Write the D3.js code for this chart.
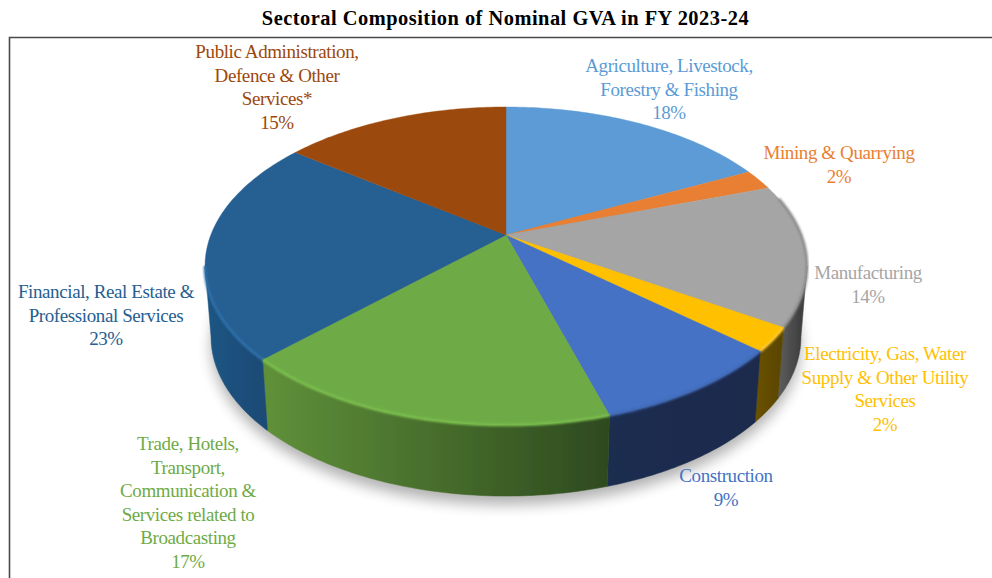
<!DOCTYPE html>
<html>
<head>
<meta charset="utf-8">
<script src="https://cdn.jsdelivr.net/npm/d3@7"></script>
<style>
html,body{margin:0;padding:0;background:#fff;overflow:hidden}
svg{display:block}
</style>
</head>
<body>
<div id="chart"></div>
<script>
const titleText = "Sectoral Composition of Nominal GVA in FY 2023-24";
const categories = [
  ["Agriculture, Livestock,", "Forestry & Fishing"],
  ["Mining & Quarrying"],
  ["Manufacturing"],
  ["Electricity, Gas, Water", "Supply & Other Utility", "Services"],
  ["Construction"],
  ["Trade, Hotels,", "Transport,", "Communication &", "Services related to", "Broadcasting"],
  ["Financial, Real Estate &", "Professional Services"],
  ["Public Administration,", "Defence & Other", "Services*"]
];
const values = [17.6, 2.1, 14.4, 2.4, 8.9, 17.2, 22.7, 14.7];
const colors = ["#5b9bd5", "#e97f30", "#a5a5a5", "#ffc000", "#4472c4", "#6eab46", "#255e91", "#9c480c"];
const wallLeft = ["#4a7fb0", "#b5622a", "#5e5e5e", "#6a5200", "#1b2d50", "#5f9039", "#1f5482", "#7a3a0a"];
const wallRight = ["#4a7fb0", "#b5622a", "#3f3f3f", "#5c4700", "#1a2b4c", "#2e4a1f", "#1c4a75", "#7a3a0a"];
const rimColors = ["#5b9bd5", "#e97f30", "#8a8a8a", "#ffcb33", "#3f68b4", "#7cc04e", "#2f70aa", "#9c480c"];
const labelAnchors = [[669,72],[839,159],[868,279],[885,360],[726,482],[188,450],[106,298],[277,58]];

const W = 992, H = 578;
const svg = d3.select("#chart").append("svg").attr("width", W).attr("height", H);
const defs = svg.append("defs");
defs.append("filter").attr("id","shadow").attr("x","-20%").attr("y","-20%").attr("width","140%").attr("height","140%")
  .append("feGaussianBlur").attr("stdDeviation",7);
defs.append("filter").attr("id","soft").attr("x","-5%").attr("y","-5%").attr("width","110%").attr("height","110%")
  .append("feGaussianBlur").attr("stdDeviation",1.1);
defs.append("filter").attr("id","edge").attr("x","-5%").attr("y","-5%").attr("width","110%").attr("height","110%")
  .append("feGaussianBlur").attr("stdDeviation",0.45);

svg.append("rect").attr("width",W).attr("height",H).attr("fill","#fff");
svg.append("path").attr("d",`M${W+2},37.5H9.5V${H+2}`).attr("fill","none").attr("stroke","#4a4a4a").attr("stroke-width",1.6);
svg.append("text").attr("x",505.5).attr("y",25).attr("text-anchor","middle")
  .attr("font-family","'Liberation Serif',serif").attr("font-weight",700).attr("font-size",20.4)
  .attr("letter-spacing",0.5).attr("fill","#000").text(titleText);

// Perspective disc: a tilted unit circle projected onto the page
const cx = 506, apexY = 235, a = 295.2, b = 153, k = 0.195, depth = 71, baseShrink = 0.98;
const project = th => {
  const X = Math.sin(th), Y = Math.cos(th), d = 1 + k * Y;
  return [cx + a * X / d, apexY - b * Y / d];
};
const lower = ([x, y]) => [cx + (x - cx) * baseShrink, y + depth];
const apex = [cx, apexY];
const arcPts = (s, e) => d3.range(0, 61).map(i => s + (e - s) * i / 60);
const line = d3.line();

const pie = d3.pie().sort(null).value(d => d);
const slices = pie(values);

const pieG = svg.append("g").attr("filter","url(#edge)");

// soft shadow beneath
const basePts = arcPts(0, 2 * Math.PI).map(t => lower(project(t)));
svg.insert("path", "g").attr("d", line(basePts) + "Z")
  .attr("transform","translate(0,9)").attr("fill","#000").attr("opacity",0.3).attr("filter","url(#shadow)");

// walls: visible part runs between the two silhouette tangents
const tangent = Math.acos(-k);
const vis0 = tangent, vis1 = 2 * Math.PI - tangent;
slices.forEach((s, i) => {
  const st = Math.max(s.startAngle, vis0), en = Math.min(s.endAngle, vis1);
  if (en <= st) return;
  const pts = arcPts(st, en).map(project);
  const low = pts.map(lower).reverse();
  const gid = "wall" + i;
  const lg = defs.append("linearGradient").attr("id", gid).attr("gradientUnits","userSpaceOnUse")
    .attr("x1", d3.min(low, p => p[0])).attr("x2", d3.max(low, p => p[0])).attr("y1",0).attr("y2",0);
  lg.append("stop").attr("offset",0).attr("stop-color", wallLeft[i]);
  lg.append("stop").attr("offset",1).attr("stop-color", wallRight[i]);
  pieG.append("path").attr("d", line(pts.concat(low)) + "Z").attr("fill", `url(#${gid})`)
    .attr("stroke", `url(#${gid})`).attr("stroke-width",0.5);
});

// top faces
slices.forEach((s, i) => {
  const pts = [apex].concat(arcPts(s.startAngle, s.endAngle).map(project));
  pieG.append("path").attr("d", line(pts) + "Z").attr("fill", colors[i]).attr("stroke", colors[i]).attr("stroke-width",0.4);
});

// bevel highlight along the front rim
slices.forEach((s, i) => {
  const st = Math.max(s.startAngle, Math.PI * 0.42), en = Math.min(s.endAngle, vis1);
  if (en <= st) return;
  svg.append("path").attr("d", line(arcPts(st, en).map(project))).attr("fill","none")
    .attr("stroke", rimColors[i]).attr("stroke-width",2.6).attr("filter","url(#soft)");
});

// labels
slices.forEach((s, i) => {
  const [lx, ly] = labelAnchors[i];
  const txt = svg.append("text").attr("x", lx).attr("y", ly).attr("text-anchor","middle")
    .attr("font-family","'Liberation Serif',serif").attr("font-size",19)
    .attr("letter-spacing",-0.4).attr("fill", colors[i]);
  categories[i].concat([d3.format(".0f")(s.value) + "%"]).forEach((t, j) => {
    txt.append("tspan").attr("x", lx).attr("dy", j ? 23.6 : 0).text(t);
  });
});
</script>
</body>
</html>
